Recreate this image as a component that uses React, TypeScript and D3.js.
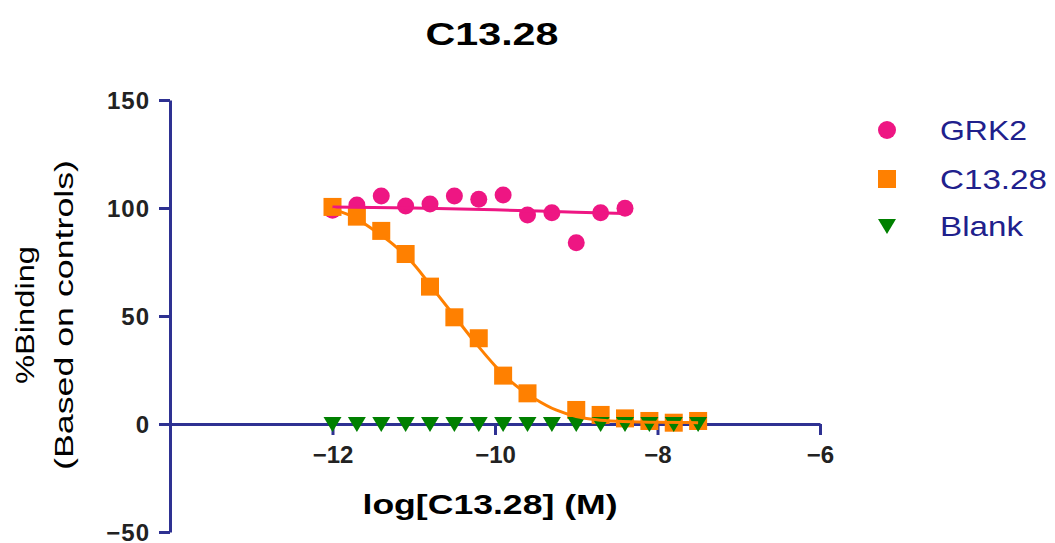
import { useEffect, useRef } from "react";
import * as d3 from "d3";

// log[C13.28] (M) on x, %Binding on y
const grk2X = [-12, -11.7, -11.4, -11.1, -10.8, -10.5, -10.2, -9.9, -9.6, -9.3, -9.0, -8.7, -8.4];
const grk2Y = [99, 101.4, 105.6, 100.9, 101.9, 105.6, 104.0, 106.0, 96.8, 97.8, 83.9, 97.8, 99.9];

const c13X = [-12.0, -11.7, -11.4, -11.1, -10.8, -10.5, -10.2, -9.9, -9.6, -9.0, -8.7, -8.4, -8.1, -7.8, -7.5];
const c13Y = [100.5, 96.0, 89.4, 78.7, 63.6, 49.4, 39.7, 22.4, 14.2, 6.5, 4.2, 2.6, 1.4, 0.6, 1.4];

const blankX = [-12, -11.7, -11.4, -11.1, -10.8, -10.5, -10.2, -9.9, -9.6, -9.3, -9.0, -8.7, -8.4, -8.1, -7.8, -7.5];
const blankY = [0, 0, 0, 0, 0, 0, 0, 0, 0, 0, 0, 0, 0, 0, 0, 0];

// fitted curves
const grk2FitX = [-12, -11, -10, -9, -8.4];
const grk2FitY = [100.5, 100, 99.2, 98, 97.4];
const c13FitX = [-12, -11.75, -11.5, -11.25, -11, -10.75, -10.5, -10.25, -10, -9.75, -9.5, -9.25, -9, -8.75, -8.5, -8, -7.5];
const c13FitY = [99.5, 96, 90, 83, 74, 62, 50, 38, 27, 18, 11.5, 6.5, 3.5, 2, 1.3, 0.8, 0.6];

const xTicks = [-12, -10, -8, -6];
const yTicks = [-50, 0, 50, 100, 150];
const seriesNames = ["GRK2", "C13.28", "Blank"];

const PINK = "#EE1683";
const ORANGE = "#FF8000";
const GREEN = "#008000";
const NAVY = "#2E3192";
const FONT = "'Liberation Sans', Arial, sans-serif";

export default function App() {
  const svgRef = useRef<SVGSVGElement>(null);

  useEffect(() => {
    const svg = d3.select(svgRef.current);
    svg.selectAll("*").remove();

    const x = d3.scaleLinear().domain([-14, -6]).range([170, 820]);
    const y = d3.scaleLinear().domain([-50, 150]).range([532, 100]);

    svg.append("rect").attr("width", 1055).attr("height", 543).attr("fill", "white");

    // title
    svg.append("text")
      .attr("x", 492).attr("y", 45)
      .attr("text-anchor", "middle")
      .attr("font-family", FONT).attr("font-weight", "bold").attr("font-size", 32)
      .attr("textLength", 133).attr("lengthAdjust", "spacingAndGlyphs")
      .text("C13.28");

    // y axis
    const gy = svg.append("g")
      .attr("transform", "translate(170,0)")
      .call(d3.axisLeft(y).tickValues(yTicks).tickSize(11).tickSizeOuter(0).tickPadding(9));
    gy.select(".domain").attr("stroke", NAVY).attr("stroke-width", 3);
    gy.selectAll(".tick line").attr("stroke", NAVY).attr("stroke-width", 3);
    gy.selectAll(".tick text")
      .attr("font-family", FONT).attr("font-weight", "bold").attr("font-size", 24)
      .attr("letter-spacing", 1)
      .attr("fill", "#222").attr("dy", "0.35em");

    // x axis at y = 0
    const gx = svg.append("g")
      .attr("transform", `translate(0,${y(0)})`)
      .call(d3.axisBottom(x).tickValues(xTicks).tickSize(11).tickSizeOuter(0).tickPadding(11));
    gx.select(".domain").attr("stroke", NAVY).attr("stroke-width", 3);
    gx.selectAll(".tick line").attr("stroke", NAVY).attr("stroke-width", 3);
    gx.selectAll(".tick text")
      .attr("font-family", FONT).attr("font-weight", "bold").attr("font-size", 24)
      .attr("fill", "#222");

    // axis titles
    svg.append("text")
      .attr("x", 490).attr("y", 514)
      .attr("text-anchor", "middle")
      .attr("font-family", FONT).attr("font-weight", "bold").attr("font-size", 27)
      .attr("textLength", 255).attr("lengthAdjust", "spacingAndGlyphs")
      .text("log[C13.28] (M)");

    const yl = svg.append("g").attr("transform", "translate(0,315) rotate(-90)");
    yl.append("text")
      .attr("x", 0).attr("y", 34)
      .attr("text-anchor", "middle")
      .attr("font-family", FONT).attr("font-size", 25)
      .attr("textLength", 138).attr("lengthAdjust", "spacingAndGlyphs")
      .text("%Binding");
    yl.append("text")
      .attr("x", 0).attr("y", 73)
      .attr("text-anchor", "middle")
      .attr("font-family", FONT).attr("font-size", 25)
      .attr("textLength", 310).attr("lengthAdjust", "spacingAndGlyphs")
      .text("(Based on controls)");

    const triPath = "M-9,-7L9,-7L0,8Z";

    // markers
    svg.append("g").selectAll("circle")
      .data(d3.zip(grk2X, grk2Y))
      .join("circle")
      .attr("cx", d => x(d[0])).attr("cy", d => y(d[1]))
      .attr("r", 8.5).attr("fill", PINK);

    svg.append("g").selectAll("rect")
      .data(d3.zip(c13X, c13Y))
      .join("rect")
      .attr("x", d => x(d[0]) - 9).attr("y", d => y(d[1]) - 9)
      .attr("width", 18).attr("height", 18).attr("fill", ORANGE);

    svg.append("g").selectAll("path")
      .data(d3.zip(blankX, blankY))
      .join("path")
      .attr("transform", d => `translate(${x(d[0])},${y(d[1])})`)
      .attr("d", triPath).attr("fill", GREEN);

    // fit lines
    const line = d3.line<number[]>()
      .x(d => x(d[0])).y(d => y(d[1]))
      .curve(d3.curveMonotoneX);

    svg.append("path")
      .datum(d3.zip(grk2FitX, grk2FitY))
      .attr("fill", "none").attr("stroke", PINK).attr("stroke-width", 3)
      .attr("d", line);

    svg.append("path")
      .datum(d3.zip(c13FitX, c13FitY))
      .attr("fill", "none").attr("stroke", ORANGE).attr("stroke-width", 3)
      .attr("d", line);

    // legend
    const rows = [130, 179, 226];
    const widths = [87, 107, 83];
    const lg = svg.append("g");
    lg.append("circle").attr("cx", 887).attr("cy", rows[0]).attr("r", 9).attr("fill", PINK);
    lg.append("rect").attr("x", 878).attr("y", rows[1] - 9).attr("width", 18).attr("height", 18).attr("fill", ORANGE);
    lg.append("path").attr("transform", `translate(887,${rows[2]})`).attr("d", triPath).attr("fill", GREEN);
    seriesNames.forEach((name, i) => {
      lg.append("text")
        .attr("x", 940).attr("y", rows[i] + 10)
        .attr("font-family", FONT).attr("font-size", 28).attr("fill", "#20208C")
        .attr("textLength", widths[i]).attr("lengthAdjust", "spacingAndGlyphs")
        .text(name);
    });
  }, []);

  return (
    <svg
      ref={svgRef}
      width={1055}
      height={543}
      style={{ position: "absolute", left: 0, top: 0 }}
    />
  );
}
